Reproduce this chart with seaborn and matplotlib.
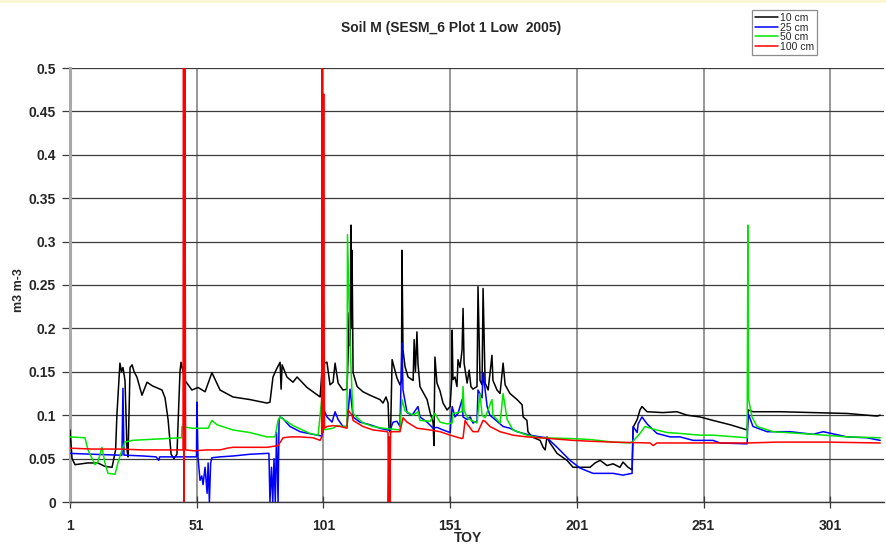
import matplotlib
matplotlib.use("Agg")
import matplotlib.pyplot as plt
import matplotlib.patches as mpatches
from matplotlib.lines import Line2D
import seaborn as sns
import pandas as pd

# ---------------- data ----------------
title = "Soil M (SESM_6 Plot 1 Low  2005)"
labels = ["10 cm", "25 cm", "50 cm", "100 cm"]
colors = ["#000000", "#0000ff", "#00e600", "#ff0000"]
x_ticks = [1, 51, 101, 151, 201, 251, 301]
y_ticks = [0, 0.05, 0.1, 0.15, 0.2, 0.25, 0.3, 0.35, 0.4, 0.45, 0.5]
y_tick_labels = ["0", "0.05", "0.1", "0.15", "0.2", "0.25", "0.3", "0.35", "0.4", "0.45", "0.5"]

d10_day = [1.0, 1.8, 3.0, 8.0, 12.0, 14.8, 17.6, 19.0, 19.5, 20.7, 21.3, 21.9, 22.7, 23.5, 23.9,
           24.7, 25.5, 26.3, 27.4, 29.4, 31.4, 33.4, 37.3, 38.5, 39.7, 40.9, 42.0, 43.2, 44.4, 44.8,
           46.4, 49.1, 51.5, 54.3, 57.0, 60.2, 65.3, 72.0, 78.7, 79.9, 81.1, 82.3, 83.9, 84.3, 84.7,
           86.6, 89.0, 90.6, 94.5, 99.7, 100.4, 100.8, 101.2, 102.4, 103.6, 104.8, 105.6, 106.8,
           108.7, 110.3, 110.7, 111.1, 111.5, 111.9, 112.1, 112.3, 112.7, 114.3, 116.6, 119.4,
           123.3, 124.5, 125.7, 126.5, 126.9, 127.5, 128.1, 130.0, 131.2, 131.8, 132.0, 132.4,
           133.2, 134.4, 136.4, 136.8, 137.3, 137.9, 138.3, 139.1, 141.9, 143.1, 144.3, 144.6,
           145.0, 145.8, 147.0, 148.2, 149.8, 151.0, 151.6, 151.8, 152.1, 152.9, 153.7, 154.1,
           154.9, 155.7, 156.1, 156.5, 157.7, 158.5, 159.2, 160.0, 161.6, 162.0, 162.8, 163.6,
           164.0, 164.8, 166.0, 167.5, 167.9, 169.5, 170.7, 171.9, 172.7, 174.6, 177.4, 179.4,
           179.8, 181.3, 181.7, 183.3, 186.5, 187.7, 188.5, 189.2, 190.4, 193.2, 197.1, 199.5,
           202.3, 206.2, 208.2, 210.2, 212.9, 215.3, 218.0, 219.2, 221.2, 222.8, 223.2, 224.8,
           225.9, 226.7, 228.7, 235.0, 240.5, 244.5, 249.6, 254.7, 261.5, 268.2, 268.6, 270.5,
           281.2, 294.2, 307.6, 319.5, 320.7]
d10_val = [0.083, 0.050, 0.043, 0.045, 0.045, 0.041, 0.040, 0.060, 0.100, 0.160, 0.150, 0.155, 0.140, 0.060, 0.052,
           0.155, 0.158, 0.150, 0.144, 0.123, 0.138, 0.134, 0.129, 0.120, 0.095, 0.055, 0.050, 0.055, 0.150, 0.161,
           0.140, 0.129, 0.132, 0.127, 0.149, 0.129, 0.121, 0.118, 0.114, 0.115, 0.144, 0.152, 0.161, 0.130, 0.158,
           0.144, 0.138, 0.144, 0.132, 0.121, 0.150, 0.189, 0.160, 0.161, 0.135, 0.138, 0.160, 0.137,
           0.129, 0.130, 0.164, 0.218, 0.180, 0.319, 0.200, 0.290, 0.149, 0.133, 0.127, 0.123,
           0.118, 0.114, 0.121, 0.114, 0.083, 0.080, 0.164, 0.143, 0.135, 0.140, 0.290, 0.175,
           0.156, 0.144, 0.140, 0.187, 0.150, 0.196, 0.160, 0.133, 0.118, 0.103, 0.091, 0.065,
           0.167, 0.137, 0.128, 0.114, 0.106, 0.110, 0.140, 0.198, 0.141, 0.144, 0.133, 0.164,
           0.155, 0.175, 0.223, 0.160, 0.137, 0.152, 0.133, 0.130, 0.133, 0.248, 0.140, 0.135,
           0.246, 0.137, 0.129, 0.169, 0.140, 0.129, 0.125, 0.160, 0.135, 0.125, 0.118, 0.112,
           0.098, 0.094, 0.081, 0.075, 0.071, 0.063, 0.060, 0.075, 0.068, 0.056, 0.048, 0.040,
           0.040, 0.040, 0.045, 0.048, 0.042, 0.044, 0.040, 0.046, 0.040, 0.037, 0.086, 0.095,
           0.106, 0.110, 0.104, 0.103, 0.104, 0.100, 0.098, 0.094, 0.089, 0.083, 0.106, 0.104,
           0.104, 0.103, 0.102, 0.099, 0.100]

d25_day = [1.0, 10.0, 20.0, 21.5, 21.9, 22.3, 30.0, 35.0, 36.0, 36.4, 45.0, 50.0, 50.9, 51.1, 51.5,
           52.3, 53.0, 53.5, 54.3, 55.1, 55.5, 56.0, 56.5, 57.0, 60.2, 65.3, 72.0, 78.7, 79.5, 79.9,
           80.5, 81.0, 81.5, 82.0, 82.5, 83.1, 83.5, 83.9, 85.1, 87.8, 91.8, 98.5, 100.4, 101.2,
           102.4, 104.4, 105.6, 106.8, 108.7, 110.3, 111.5, 112.7, 115.4, 119.4, 123.3, 126.1,
           127.3, 128.5, 130.0, 131.2, 132.0, 132.4, 134.0, 136.0, 138.3, 139.1, 141.9, 144.3,
           145.8, 148.2, 151.0, 151.8, 152.9, 154.1, 155.7, 156.1, 157.7, 158.9, 160.0, 161.6,
           162.0, 163.6, 164.0, 165.6, 166.7, 169.5, 171.9, 174.6, 177.4, 182.5, 186.5, 189.2,
           193.2, 198.3, 202.3, 207.4, 215.3, 219.2, 222.8, 223.2, 224.8, 225.2, 226.7, 228.7,
           232.6, 237.8, 241.7, 246.9, 254.7, 257.5, 268.2, 268.6, 270.5, 276.1, 285.1, 294.2,
           298.2, 307.6, 315.5, 320.7]
d25_val = [0.056, 0.055, 0.054, 0.054, 0.131, 0.054, 0.053, 0.052, 0.048, 0.052, 0.052, 0.052, 0.052, 0.115, 0.052,
           0.025, 0.030, 0.020, 0.040, 0.010, 0.045, 0.000, 0.045, 0.051, 0.052, 0.053, 0.055, 0.056, 0.056, 0.000,
           0.040, 0.000, 0.050, 0.000, 0.080, 0.000, 0.095, 0.098, 0.096, 0.087, 0.081, 0.077, 0.076, 0.106,
           0.098, 0.092, 0.104, 0.095, 0.087, 0.087, 0.130, 0.098, 0.092, 0.089, 0.085, 0.083,
           0.083, 0.092, 0.093, 0.087, 0.183, 0.129, 0.103, 0.100, 0.110, 0.098, 0.092, 0.085,
           0.086, 0.083, 0.080, 0.110, 0.098, 0.102, 0.118, 0.098, 0.095, 0.098, 0.091, 0.093,
           0.129, 0.120, 0.149, 0.110, 0.100, 0.093, 0.087, 0.085, 0.081, 0.077, 0.075, 0.074,
           0.063, 0.048, 0.039, 0.033, 0.033, 0.031, 0.033, 0.087, 0.080, 0.090, 0.098, 0.090,
           0.079, 0.075, 0.075, 0.071, 0.071, 0.068, 0.067, 0.102, 0.087, 0.081, 0.081, 0.078,
           0.081, 0.075, 0.074, 0.071]

d50_day = [1.0, 6.9, 8.1, 10.9, 12.0, 13.6, 14.8, 16.0, 18.8, 19.9, 21.5, 22.7, 25.5, 31.8, 38.5,
           44.4, 45.0, 45.2, 49.1, 51.5, 55.5, 57.0, 59.0, 65.3, 72.0, 78.7, 81.9, 83.1, 83.9, 89.0,
           95.7, 98.9, 99.7, 100.4, 100.8, 104.8, 106.4, 108.7, 110.3, 110.5, 111.5, 112.3, 112.7,
           116.6, 120.6, 124.5, 131.2, 132.0, 133.2, 136.4, 138.3, 139.1, 143.1, 145.0, 147.0,
           149.8, 151.8, 152.1, 155.7, 156.1, 156.5, 158.1, 161.6, 162.8, 163.6, 164.8, 167.5,
           167.9, 170.7, 171.9, 173.5, 175.8, 181.3, 186.5, 199.5, 206.2, 215.3, 222.0, 223.2,
           225.9, 227.9, 231.1, 236.6, 241.7, 249.6, 254.7, 268.2, 268.5, 268.8, 270.1, 272.1,
           278.4, 294.2, 307.6, 320.7]
d50_val = [0.075, 0.074, 0.060, 0.043, 0.046, 0.063, 0.045, 0.033, 0.032, 0.045, 0.060, 0.069, 0.071, 0.072, 0.073,
           0.074, 0.074, 0.087, 0.085, 0.085, 0.085, 0.094, 0.089, 0.083, 0.080, 0.075, 0.075, 0.094, 0.098, 0.088,
           0.079, 0.077, 0.100, 0.121, 0.083, 0.085, 0.088, 0.087, 0.087, 0.308, 0.183, 0.125, 0.102,
           0.091, 0.087, 0.085, 0.083, 0.118, 0.105, 0.100, 0.104, 0.094, 0.093, 0.102, 0.092,
           0.090, 0.091, 0.102, 0.104, 0.133, 0.105, 0.096, 0.091, 0.125, 0.100, 0.097, 0.118,
           0.100, 0.091, 0.125, 0.095, 0.083, 0.077, 0.074, 0.073, 0.072, 0.069, 0.068, 0.070,
           0.079, 0.087, 0.084, 0.080, 0.079, 0.077, 0.077, 0.074, 0.319, 0.118, 0.098, 0.087,
           0.081, 0.078, 0.075, 0.074]

d100_day = [1.0, 10.0, 20.0, 30.0, 40.0, 45.6, 45.8, 46.0, 46.3, 46.6, 50.0, 55.0, 60.2, 63.0, 65.3,
            69.3, 78.7, 83.1, 85.1, 87.8, 91.8, 96.9, 99.7, 100.3, 100.5, 100.8, 101.1, 101.4, 102.4,
            104.8, 107.6, 110.3, 110.7, 112.3, 112.7, 116.6, 120.6, 126.1, 126.5, 126.6, 126.9, 127.2,
            127.5, 128.5, 131.2, 132.4, 134.0, 137.9, 143.1, 147.0, 151.0, 155.7, 156.1, 156.9,
            157.7, 160.0, 162.0, 164.0, 164.8, 166.7, 170.7, 175.8, 181.3, 186.5, 199.5, 206.2,
            215.3, 229.9, 231.1, 232.6, 249.6, 268.2, 280.0, 300.0, 320.7]
d100_val = [0.062, 0.061, 0.061, 0.060, 0.060, 0.060, 0.600, 0.000, 0.600, 0.060, 0.059, 0.060, 0.060, 0.062, 0.063,
            0.063, 0.063, 0.065, 0.074, 0.075, 0.075, 0.074, 0.071, 0.075, 0.600, 0.080, 0.470, 0.085, 0.087,
            0.088, 0.087, 0.085, 0.106, 0.100, 0.094, 0.087, 0.083, 0.081, 0.080, 0.000, 0.075, 0.000,
            0.081, 0.081, 0.081, 0.097, 0.092, 0.085, 0.083, 0.081, 0.077, 0.073, 0.074, 0.094,
            0.090, 0.081, 0.081, 0.094, 0.093, 0.087, 0.081, 0.077, 0.075, 0.074, 0.071, 0.070,
            0.069, 0.068, 0.065, 0.068, 0.068, 0.068, 0.069, 0.069, 0.068]

series_days = [d10_day, d25_day, d50_day, d100_day]
series_vals = [d10_val, d25_val, d50_val, d100_val]

# ---------------- figure ----------------
sns.set_theme(style="white")
plt.rcParams["font.family"] = ["Liberation Sans", "DejaVu Sans"]
plt.rcParams["font.weight"] = "bold"

fig = plt.figure(figsize=(8.86, 5.47), dpi=100)
fig.patch.set_facecolor("white")
ax = fig.add_axes([70 / 886, 1 - 502 / 547, 814 / 886, 434 / 547])
ax.set_facecolor("white")

# faint yellow strip at the very top of the image
fig.patches.append(mpatches.Rectangle((0, 1 - 3 / 547), 1, 3 / 547, transform=fig.transFigure,
                                      facecolor="#fbf6d2", edgecolor="none", zorder=0))

for lab, col, dd, vv in zip(labels, colors, series_days, series_vals):
    df = pd.DataFrame({"TOY": dd, "val": vv})
    sns.lineplot(data=df, x="TOY", y="val", ax=ax, color=col, lw=1.1,
                 estimator=None, sort=False, legend=False, zorder=3)

ax.set_xlim(1, 322.2)
ax.set_ylim(0, 0.5)
ax.set_xticks(x_ticks)
ax.set_xticklabels([str(t) for t in x_ticks], fontsize=10, fontweight="bold")
ax.set_yticks(y_ticks)
ax.set_yticklabels(y_tick_labels, fontsize=10, fontweight="bold")

ax.grid(axis="y", color="#3a3a3a", lw=0.9, zorder=1)
ax.grid(axis="x", color="#7a7a7a", lw=1.1, zorder=1)
for s in ["top", "right"]:
    ax.spines[s].set_visible(False)
ax.spines["left"].set_color("#a8a8a8")
ax.spines["left"].set_linewidth(2.2)
ax.spines["bottom"].set_color("#3a3a3a")
ax.spines["bottom"].set_linewidth(1.0)
ax.tick_params(axis="y", direction="out", length=6, width=0.9, color="#3a3a3a", pad=4, left=True)
ax.tick_params(axis="x", direction="inout", length=8, width=0.9, color="#3a3a3a", pad=8, bottom=True)

ax.set_xlabel("")
ax.set_ylabel("")
fig.text(468 / 886, 1 - 538 / 547, "TOY", ha="center", va="center", fontsize=10, fontweight="bold")
fig.text(19 / 886, 1 - 290 / 547, "m3 m-3", rotation=90, ha="center", va="center",
         fontsize=9, fontweight="bold")
fig.text(451 / 886, 1 - 28 / 547, title, ha="center", va="center", fontsize=10, fontweight="bold")

handles = [Line2D([0], [0], color=c, lw=1.1) for c in colors]
leg = fig.legend(handles, labels, loc="upper left", bbox_to_anchor=(752 / 886, 1 - 10 / 547),
                 fontsize=7.5, frameon=True, fancybox=False, handlelength=2.2, handletextpad=0.15,
                 labelspacing=-0.05, borderpad=0.3, borderaxespad=0)
leg.get_frame().set_edgecolor("#707070")
leg.get_frame().set_linewidth(0.9)
for t in leg.get_texts():
    t.set_fontweight("normal")

fig.savefig("out.png", dpi=100, facecolor="white")
